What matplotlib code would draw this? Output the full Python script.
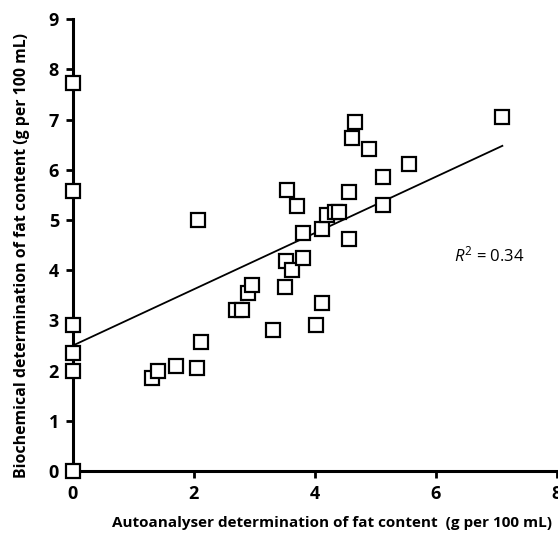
import matplotlib
matplotlib.use("Agg")
import matplotlib.pyplot as plt
import numpy as np

plt.rcParams['font.family'] = ['Open Sans', 'DejaVu Sans']
plt.rcParams['mathtext.fontset'] = 'custom'
plt.rcParams['mathtext.rm'] = 'Open Sans'
plt.rcParams['mathtext.it'] = 'Open Sans:italic'

# autoanalyser vs biochemical fat content (g per 100 mL)
auto_fat = [0, 0, 0, 0, 0, 0,
            2.07, 1.30, 1.40, 1.70, 2.05, 2.12,
            2.70, 2.80, 2.90, 2.96, 3.31, 3.50, 3.52, 3.62, 3.80,
            3.54, 3.70, 3.80, 4.02, 4.12, 4.12, 4.20, 4.33, 4.40,
            4.56, 4.56, 4.62, 4.66, 4.90, 5.12, 5.12, 5.55, 7.10]
bio_fat = [7.72, 5.57, 2.90, 2.35, 2.00, 0.00,
           5.00, 1.85, 2.00, 2.10, 2.05, 2.56,
           3.20, 3.20, 3.55, 3.71, 2.80, 3.67, 4.19, 4.00, 4.25,
           5.60, 5.27, 4.75, 2.90, 3.35, 4.81, 5.10, 5.15, 5.15,
           5.55, 4.63, 6.63, 6.95, 6.41, 5.85, 5.29, 6.12, 7.05]

# trend line (linear fit shown in figure)
fit_intercept = 2.50
fit_slope = 0.56
fit_x_range = [0, 7.1]
r_squared = 0.34

fig = plt.figure(figsize=(5.58, 5.38), dpi=100)
ax = fig.add_axes([0.1308, 0.1245, 0.867, 0.840])

xs = np.array(fit_x_range)
ax.plot(xs, fit_intercept + fit_slope * xs, color='black', lw=1.3, zorder=2)

ax.plot(auto_fat, bio_fat, ls='none', marker='s', ms=10.5, mfc='white',
        mec='black', mew=1.6, clip_on=False, zorder=3)

ax.set_xlim(0, 8)
ax.set_ylim(0, 9)
ax.set_xticks([0, 2, 4, 6, 8])
ax.set_yticks(range(0, 10))

for s in ['top', 'right']:
    ax.spines[s].set_visible(False)
for s in ['left', 'bottom']:
    ax.spines[s].set_linewidth(2.2)

ax.tick_params(direction='out', length=5, width=2, labelsize=13, pad=5)
for lab in ax.get_xticklabels() + ax.get_yticklabels():
    lab.set_fontweight('bold')

ax.set_xlabel('Autoanalyser determination of fat content  (g per 100 mL)',
              fontsize=11, fontweight='bold')
ax.xaxis.set_label_coords(0.535, -0.10)
ax.set_ylabel('Biochemical determination of fat content (g per 100 mL)',
              fontsize=11.4, fontweight='bold')
ax.yaxis.set_label_coords(-0.088, 0.476)

ax.text(6.3, 4.18, r'$R^2$ = ' + f'{r_squared:.2f}', fontsize=12)

fig.savefig('out.png', dpi=100)
